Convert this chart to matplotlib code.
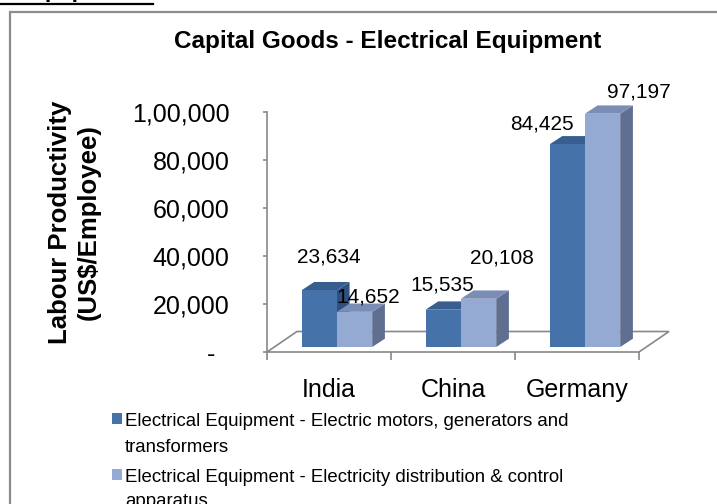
import matplotlib
matplotlib.use("Agg")
import matplotlib.pyplot as plt
from matplotlib.patches import Polygon, Rectangle
from matplotlib.ticker import FuncFormatter, FixedLocator

plt.rcParams['font.family'] = ['Liberation Sans', 'DejaVu Sans']

# data
categories = ['India', 'China', 'Germany']
motors = [23634, 15535, 84425]
distribution = [14652, 20108, 97197]
series_names = [
    "Electrical Equipment - Electric motors, generators and\ntransformers",
    "Electrical Equipment - Electricity distribution & control\napparatus",
]
title = "Capital Goods - Electrical Equipment"
y_title = "Labour Productivity\n(US$/Employee)"
y_ticks = [0, 20000, 40000, 60000, 80000, 100000]

# styling
front = ['#4672AA', '#95AAD3']
top = ['#385D8F', '#7A8DB5']
side = ['#2F5080', '#5F6F91']
grey = '#888888'

W, H = 717, 504
fig = plt.figure(figsize=(W / 100, H / 100), dpi=100)

# pixel-space overlay for the frame and legend
bg = fig.add_axes([0, 0, 1, 1])
bg.set_xlim(0, W)
bg.set_ylim(H, 0)
bg.axis('off')
bg.plot([10, 10, 730], [520, 12, 12], color='#8c8c8c', lw=1.6, solid_joinstyle='miter')
bg.plot([0, 153], [3.5, 3.5], color='black', lw=1.6)
bg.text(23, -3, "Equipment:", fontsize=16.5, fontweight='bold', va='baseline', ha='left')

# plot area: front plane of the 3-D chart
ax = fig.add_axes([267 / W, 1 - 352 / H, 372 / W, 240 / H])
ax.set_xlim(0, 3)
ax.set_ylim(0, 100000)
ax.patch.set_visible(False)
for s in ['top', 'right', 'bottom']:
    ax.spines[s].set_visible(False)
ax.spines['left'].set_color(grey)
ax.spines['left'].set_linewidth(1.2)


def indian(v, pos=None):
    if v == 0:
        return "-  "
    s = str(int(v))
    last3, rest = s[-3:], s[:-3]
    groups = []
    while len(rest) > 2:
        groups.insert(0, rest[-2:])
        rest = rest[:-2]
    if rest:
        groups.insert(0, rest)
    return ",".join(groups + [last3])


ax.yaxis.set_major_locator(FixedLocator(y_ticks))
ax.yaxis.set_major_formatter(FuncFormatter(indian))
ax.tick_params(axis='y', direction='out', length=3, width=1.2, color=grey,
               labelsize=18, pad=24)
ax.set_xticks([0, 1, 2, 3])
ax.set_xticklabels([])
ax.set_xticks([0.5, 1.5, 2.5], minor=True)
ax.set_xticklabels(categories, minor=True)
ax.tick_params(axis='x', which='major', direction='out', length=6, width=1.2, color=grey)
ax.tick_params(axis='x', which='minor', length=0, labelsize=18, pad=19)

# depth vectors in data units (px per category 124, px per unit 0.0024)
fdx, fdy = 30 / 124, 20.5 / 0.0024       # floor depth
odx, ody = 7 / 124, 5 / 0.0024           # front face of bars
bdx, bdy = 12.7 / 124, 8.3 / 0.0024      # bar depth
bar_w = 0.285
n = len(categories)

floor = Polygon([(0, 0), (n, 0), (n + fdx, fdy), (fdx, fdy)], closed=True,
                facecolor='white', edgecolor=grey, lw=1.2, clip_on=False, zorder=1)
ax.add_patch(floor)

# label offsets (points) from the top centre of each bar's front face
label_off = [[(7, 24), (10, 11)], [(-1, 18), (17, 29)], [(-18, 15), (26, 16)]]

for i in range(n):
    for j, vals in enumerate([motors, distribution]):
        v = vals[i]
        x0 = i + 0.222 + j * bar_w + odx
        y0 = ody
        y1 = ody + v
        x1 = x0 + bar_w
        z = 3 + j
        ax.add_patch(Polygon([(x1, y0), (x1 + bdx, y0 + bdy), (x1 + bdx, y1 + bdy), (x1, y1)],
                             closed=True, facecolor=side[j], edgecolor='none', clip_on=False, zorder=z))
        ax.add_patch(Polygon([(x0, y1), (x1, y1), (x1 + bdx, y1 + bdy), (x0 + bdx, y1 + bdy)],
                             closed=True, facecolor=top[j], edgecolor='none', clip_on=False, zorder=z))
        ax.add_patch(Rectangle((x0, y0), bar_w, v, facecolor=front[j], edgecolor='none',
                               clip_on=False, zorder=z))
        ax.annotate(f"{v:,}", xy=(x0 + bar_w / 2, y1), xytext=label_off[i][j],
                    textcoords='offset points', ha='center', va='center',
                    fontsize=15, zorder=10, annotation_clip=False)

# titles
bg.text(388, 48, title, fontsize=17.5, fontweight='bold', ha='center', va='baseline')
bg.text(74, 222, y_title, fontsize=18.5, fontweight='bold', rotation=90,
        ha='center', va='center', multialignment='center', linespacing=1.25)

# legend
for k, name in enumerate(series_names):
    base = 426.5 + k * 55
    bg.add_patch(Rectangle((111.5, base - 14 + k * 1.5), 10.5, 11, facecolor=front[k], edgecolor='none'))
    for m, line in enumerate(name.split('\n')):
        bg.text(125, base + m * 25, line, fontsize=13.4, ha='left', va='baseline')

fig.savefig('out.png', dpi=100)
